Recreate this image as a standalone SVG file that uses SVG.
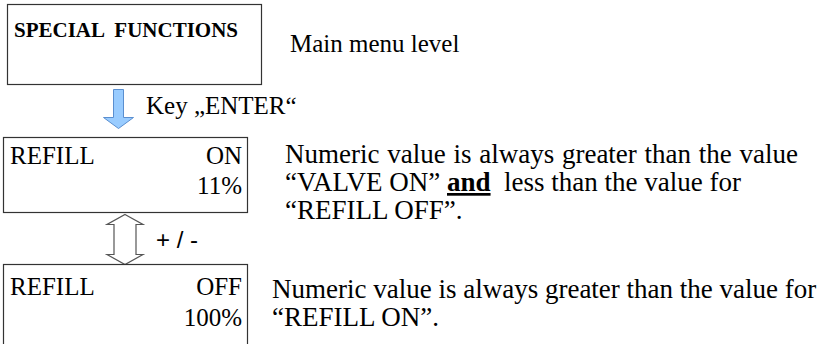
<svg xmlns="http://www.w3.org/2000/svg" width="824" height="344" viewBox="0 0 824 344">
<style>
.box{fill:#fff;stroke:#333;stroke-width:1.2}
.t{font-family:"Liberation Serif","Times New Roman",serif;font-size:25px;fill:#000}
.d{font-family:"Liberation Serif","Times New Roman",serif;font-size:27px;fill:#000}
.b{font-family:"Liberation Serif","Times New Roman",serif;font-size:21px;font-weight:bold;fill:#000}
.s{font-family:"Liberation Sans",Arial,sans-serif;font-size:24px;fill:#000}
.r{text-anchor:end}
</style>
<rect width="824" height="344" fill="#fff"/>
<g id="node-special">
<rect class="box" x="7.5" y="4.5" width="254" height="80"/>
<text class="b" x="14" y="37" xml:space="preserve">SPECIAL  FUNCTIONS</text>
</g>
<text class="t" x="290" y="52">Main menu level</text>
<g id="connectors">
<path d="M113.5,89.5 H123.5 V117.5 H133.5 L118.5,128.5 L103.5,117.5 H113.5 Z" fill="#99ccff" stroke="#5a8fd0" stroke-width="1"/>
<path d="M125,214.5 L143,224.5 H136 V254.5 H143 L125,264.5 L107,254.5 H114 V224.5 H107 Z" fill="#fff" stroke="#555" stroke-width="1.2"/>
</g>
<text class="t" x="146" y="114" font-size="26">Key „ENTER“</text>
<text class="s" x="156" y="248">+ / -</text>
<g id="node-refill-on">
<rect class="box" x="3.5" y="137.5" width="244" height="75"/>
<text class="t" x="10" y="164">REFILL</text>
<text class="t r" x="242" y="164">ON</text>
<text class="t r" x="242" y="194">11%</text>
</g>
<g id="node-refill-off">
<rect class="box" x="3.5" y="264.5" width="244" height="90"/>
<text class="t" x="10" y="295">REFILL</text>
<text class="t r" x="242" y="295">OFF</text>
<text class="t r" x="242" y="326">100%</text>
</g>
<text class="d" x="285" y="163" word-spacing="1">Numeric value is always greater than the value</text>
<text class="d" x="285" y="191" xml:space="preserve">“VALVE ON” <tspan font-weight="bold" text-decoration="underline">and</tspan>  less than the value for</text>
<text class="d" x="285" y="219">“REFILL OFF”.</text>
<text class="d" x="272" y="298" font-size="26.9">Numeric value is always greater than the value for</text>
<text class="d" x="272" y="326">“REFILL ON”.</text>
</svg>
